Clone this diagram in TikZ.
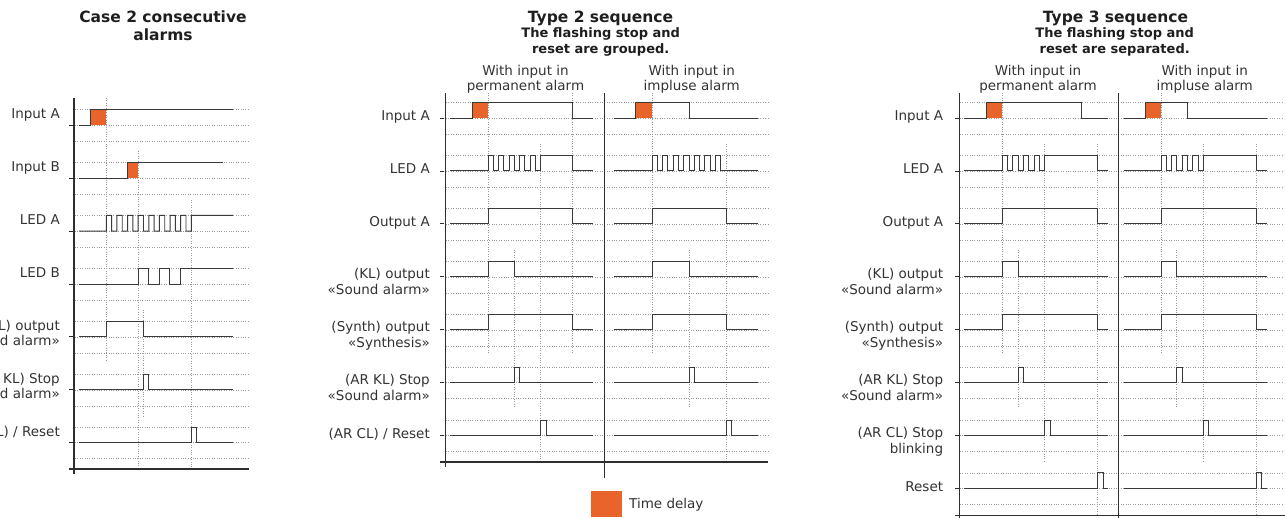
\documentclass[tikz,border=0pt]{standalone}
\usepackage{fontspec}
\setmainfont{DejaVu Sans}
\definecolor{sigc}{HTML}{3A3A3A}
\definecolor{gridc}{HTML}{9A9A9A}
\definecolor{axc}{HTML}{2E2E2E}
\definecolor{orng}{HTML}{E8642A}
\definecolor{txtc}{HTML}{333333}
\definecolor{ttlc}{HTML}{1E1E1E}
\begin{document}
\begin{tikzpicture}[x=1pt,y=-1pt,
  sig/.style={draw=sigc,line width=0.95pt,line join=miter},
  gridl/.style={draw=gridc,line width=0.6pt,dash pattern=on 0.8pt off 1.6pt},
  axisl/.style={draw=axc,line width=1.1pt},
  tick/.style={draw=axc,line width=0.9pt},
  delay/.style={fill=orng,draw=none},
  lab/.style={font=\fontsize{13.5}{15.6}\selectfont,text=txtc,align=right,anchor=base east,inner sep=0pt},
  head/.style={font=\fontsize{13.5}{15.7}\selectfont,text=txtc,align=center,anchor=base,inner sep=0pt},
  ttl/.style={font=\fontsize{15.5}{17.4}\selectfont\bfseries,text=ttlc,align=center,anchor=base,inner sep=0pt},
  subttl/.style={font=\fontsize{13}{15.6}\selectfont\bfseries,text=ttlc,align=center,anchor=base,inner sep=0pt}]
\useasboundingbox (0,0) rectangle (1285,517);
\clip (0,0) rectangle (1285,517);

% ================= Panel 1 =================
\node[ttl] (t1) at (163,40.1) {Case 2 consecutive\\alarms};
\foreach \l in {125.3,178.2,231.1,284.0,336.9,389.8,442.7}{
  \draw[gridl] (75,{\l-15.7}) -- (248,{\l-15.7});
  \draw[gridl] (75,\l) -- (248,\l);
  \draw[gridl] (75,{\l+16}) -- (248,{\l+16});
  \draw[tick] (69,\l) -- (73,\l);
}
\draw[gridl] (106.3,98) -- (106.3,362);
\draw[gridl] (138,151) -- (138,469);
\draw[gridl] (191.3,200) -- (191.3,469);
\draw[gridl] (143.3,310) -- (143.3,415.7);
\draw[axisl] (74,98) -- (74,474);
\draw[axisl] (69,469) -- (249,469);
% labels
\node[lab] (p1a) at (60,118.6) {Input A};
\node[lab] (p1b) at (60,171.5) {Input B};
\node[lab] (p1c) at (60,224.4) {LED A};
\node[lab] (p1d) at (60,277.3) {LED B};
\node[lab] (p1e) at (60,345.8) {(KL) output\\«Sound alarm»};
\node[lab] (p1f) at (60,398.7) {(AR KL) Stop\\«Sound alarm»};
\node[lab] (p1g) at (60,436.0) {(AR CL) / Reset};
% signals
\fill[delay] (90.7,109.6) rectangle (106.3,125.3);
\draw[sig] (79,125.3) -- (90.7,125.3) -- (90.7,109.6) -- (233,109.6);
\fill[delay] (127.7,162.5) rectangle (138,178.2);
\draw[sig] (79,178.2) -- (127.7,178.2) -- (127.7,162.5) -- (222.7,162.5);
\draw[sig] (79,231.1) -- (106.3,231.1) \foreach \k in {1,...,8}{ -- ++(0,-15.7) -- ++(5.3125,0) -- ++(0,15.7) -- ++(5.3125,0) } -- ++(0,-15.7) -- (233,215.4);
\draw[sig] (79,284) -- (138,284) -- (138,268.3) -- (148.3,268.3) -- (148.3,284) -- (159,284) -- (159,268.3) -- (169.3,268.3) -- (169.3,284) -- (180.3,284) -- (180.3,268.3) -- (233,268.3);
\draw[sig] (79,336.9) -- (106.3,336.9) -- (106.3,321.2) -- (143.3,321.2) -- (143.3,336.9) -- (233,336.9);
\draw[sig] (79,389.8) -- (143.3,389.8) -- (143.3,374.1) -- (148.7,374.1) -- (148.7,389.8) -- (233,389.8);
\draw[sig] (79,442.7) -- (191.3,442.7) -- (191.3,427) -- (196.7,427) -- (196.7,442.7) -- (233,442.7);

% ================= Panel 2 =================
\node[ttl] (t2) at (600.5,22) {Type 2 sequence};
\node[subttl] (s2) at (600.7,53.3) {The flashing stop and\\reset are grouped.};
\node[head] (h2a) at (525.5,90.7) {With input in\\permanent alarm};
\node[head] (h2b) at (691.7,90.7) {With input in\\impluse alarm};
\foreach \l in {118.0,170.95,223.9,276.85,329.8,382.75,435.7}{
  \draw[gridl] (446,{\l-15.7}) -- (768,{\l-15.7});
  \draw[gridl] (446,\l) -- (768,\l);
  \draw[gridl] (446,{\l+16}) -- (768,{\l+16});
  \draw[tick] (440,\l) -- (444,\l);
}
\draw[gridl] (488,93) -- (488,354);
\draw[gridl] (572.7,93) -- (572.7,354);
\draw[gridl] (514.3,250) -- (514.3,408.3);
\draw[gridl] (540.7,144) -- (540.7,462);
\draw[gridl] (652,93) -- (652,354);
\draw[gridl] (689,250) -- (689,408.3);
\draw[gridl] (726,144) -- (726,462);
\draw[axisl] (445.7,93.3) -- (445.7,467.3);
\draw[axisl] (604.3,93.3) -- (604.3,477.7);
\draw[axisl] (440,462) -- (768,462);
% labels
\node[lab] (p2a) at (430,120.5) {Input A};
\node[lab] (p2b) at (430,173.45) {LED A};
\node[lab] (p2c) at (430,226.4) {Output A};
\node[lab] (p2d) at (430,294.45) {(KL) output\\«Sound alarm»};
\node[lab] (p2e) at (430,347.4) {(Synth) output\\«Synthesis»};
\node[lab] (p2f) at (430,400.35) {(AR KL) Stop\\«Sound alarm»};
\node[lab] (p2g) at (430,438.2) {(AR CL) / Reset};
% left signals
\fill[delay] (472,102.3) rectangle (488,118);
\draw[sig] (450,118) -- (472,118) -- (472,102.3) -- (572.7,102.3) -- (572.7,118) -- (593.3,118);
\draw[sig] (450,170.95) -- (488,170.95) \foreach \k in {1,...,5}{ -- ++(0,-15.7) -- ++(5.27,0) -- ++(0,15.7) -- ++(5.27,0) } -- ++(0,-15.7) -- (572.7,155.25) -- (572.7,170.95) -- (593.3,170.95);
\draw[sig] (450,223.9) -- (488,223.9) -- (488,208.2) -- (572.7,208.2) -- (572.7,223.9) -- (593.3,223.9);
\draw[sig] (450,276.85) -- (488,276.85) -- (488,261.15) -- (514.3,261.15) -- (514.3,276.85) -- (593.3,276.85);
\draw[sig] (450,329.8) -- (488,329.8) -- (488,314.1) -- (572.7,314.1) -- (572.7,329.8) -- (593.3,329.8);
\draw[sig] (450,382.75) -- (514.3,382.75) -- (514.3,367.05) -- (519.7,367.05) -- (519.7,382.75) -- (593.3,382.75);
\draw[sig] (450,435.7) -- (540.7,435.7) -- (540.7,420) -- (546,420) -- (546,435.7) -- (593.3,435.7);
% right signals
\fill[delay] (635.7,102.3) rectangle (652,118);
\draw[sig] (614.3,118) -- (635.7,118) -- (635.7,102.3) -- (689,102.3) -- (689,118) -- (757.7,118);
\draw[sig] (614.3,170.95) -- (652,170.95) \foreach \k in {1,...,7}{ -- ++(0,-15.7) -- ++(5.285,0) -- ++(0,15.7) -- ++(5.285,0) } -- (757.7,170.95);
\draw[sig] (614.3,223.9) -- (652,223.9) -- (652,208.2) -- (726,208.2) -- (726,223.9) -- (757.7,223.9);
\draw[sig] (614.3,276.85) -- (652,276.85) -- (652,261.15) -- (689,261.15) -- (689,276.85) -- (757.7,276.85);
\draw[sig] (614.3,329.8) -- (652,329.8) -- (652,314.1) -- (726,314.1) -- (726,329.8) -- (757.7,329.8);
\draw[sig] (614.3,382.75) -- (689,382.75) -- (689,367.05) -- (694.7,367.05) -- (694.7,382.75) -- (757.7,382.75);
\draw[sig] (614.3,435.7) -- (726,435.7) -- (726,420) -- (731.7,420) -- (731.7,435.7) -- (757.7,435.7);
% legend
\fill[delay] (591,491) rectangle (622,517);
\node[font=\fontsize{13.5}{15.6}\selectfont,text=txtc,anchor=west,inner sep=0pt] (leg) at (629,505) {Time delay};

% ================= Panel 3 =================
\node[ttl] (t3) at (1115.5,22) {Type 3 sequence};
\node[subttl] (s3) at (1114.7,53.3) {The flashing stop and\\reset are separated.};
\node[head] (h3a) at (1038,90.7) {With input in\\permanent alarm};
\node[head] (h3b) at (1204.7,90.7) {With input in\\impluse alarm};
\foreach \l in {118.0,170.95,223.9,276.85,329.8,382.75,435.7,488.65}{
  \draw[gridl] (960,{\l-15.7}) -- (1284,{\l-15.7});
  \draw[gridl] (960,\l) -- (1284,\l);
  \draw[gridl] (960,{\l+16}) -- (1284,{\l+16});
  \draw[tick] (955,\l) -- (958.5,\l);
}
\draw[gridl] (1002.3,93) -- (1002.3,354);
\draw[gridl] (1018.3,250) -- (1018.3,408.3);
\draw[gridl] (1044.7,144) -- (1044.7,462.3);
\draw[gridl] (1097.7,144) -- (1097.7,515.7);
\draw[gridl] (1161,93) -- (1161,354);
\draw[gridl] (1176.7,250) -- (1176.7,408.3);
\draw[gridl] (1203.3,144) -- (1203.3,462.3);
\draw[gridl] (1256.3,144) -- (1256.3,515.7);
\draw[axisl] (959.7,93.3) -- (959.7,520);
\draw[axisl] (1118.3,93.3) -- (1118.3,520);
\draw[axisl] (955,515.7) -- (1290,515.7);
% labels
\node[lab] (p3a) at (943.3,120.5) {Input A};
\node[lab] (p3b) at (943.3,173.45) {LED A};
\node[lab] (p3c) at (943.3,226.4) {Output A};
\node[lab] (p3d) at (943.3,294.45) {(KL) output\\«Sound alarm»};
\node[lab] (p3e) at (943.3,347.4) {(Synth) output\\«Synthesis»};
\node[lab] (p3f) at (943.3,400.35) {(AR KL) Stop\\«Sound alarm»};
\node[lab] (p3g) at (943.3,453.3) {(AR CL) Stop\\blinking};
\node[lab] (p3h) at (943.3,491.15) {Reset};
% left signals
\fill[delay] (986,102.3) rectangle (1002.3,118);
\draw[sig] (964.3,118) -- (986,118) -- (986,102.3) -- (1081.7,102.3) -- (1081.7,118) -- (1107.7,118);
\draw[sig] (964.3,170.95) -- (1002.3,170.95) \foreach \k in {1,...,4}{ -- ++(0,-15.7) -- ++(5.3,0) -- ++(0,15.7) -- ++(5.3,0) } -- ++(0,-15.7) -- (1097.7,155.25) -- (1097.7,170.95) -- (1107.7,170.95);
\draw[sig] (964.3,223.9) -- (1002.3,223.9) -- (1002.3,208.2) -- (1097.7,208.2) -- (1097.7,223.9) -- (1107.7,223.9);
\draw[sig] (964.3,276.85) -- (1002.3,276.85) -- (1002.3,261.15) -- (1018.3,261.15) -- (1018.3,276.85) -- (1107.7,276.85);
\draw[sig] (964.3,329.8) -- (1002.3,329.8) -- (1002.3,314.1) -- (1097.7,314.1) -- (1097.7,329.8) -- (1107.7,329.8);
\draw[sig] (964.3,382.75) -- (1018.3,382.75) -- (1018.3,367.05) -- (1023.7,367.05) -- (1023.7,382.75) -- (1107.7,382.75);
\draw[sig] (964.3,435.7) -- (1044.7,435.7) -- (1044.7,420) -- (1050,420) -- (1050,435.7) -- (1107.7,435.7);
\draw[sig] (964.3,488.65) -- (1097.7,488.65) -- (1097.7,472.95) -- (1103,472.95) -- (1103,488.65) -- (1107.7,488.65);
% right signals
\fill[delay] (1145,102.3) rectangle (1161,118);
\draw[sig] (1123.7,118) -- (1145,118) -- (1145,102.3) -- (1187.3,102.3) -- (1187.3,118) -- (1267.3,118);
\draw[sig] (1123.7,170.95) -- (1161,170.95) \foreach \k in {1,...,4}{ -- ++(0,-15.7) -- ++(5.29,0) -- ++(0,15.7) -- ++(5.29,0) } -- ++(0,-15.7) -- (1256.3,155.25) -- (1256.3,170.95) -- (1267.3,170.95);
\draw[sig] (1123.7,223.9) -- (1161,223.9) -- (1161,208.2) -- (1256.3,208.2) -- (1256.3,223.9) -- (1267.3,223.9);
\draw[sig] (1123.7,276.85) -- (1161,276.85) -- (1161,261.15) -- (1176.7,261.15) -- (1176.7,276.85) -- (1267.3,276.85);
\draw[sig] (1123.7,329.8) -- (1161,329.8) -- (1161,314.1) -- (1256.3,314.1) -- (1256.3,329.8) -- (1267.3,329.8);
\draw[sig] (1123.7,382.75) -- (1176.7,382.75) -- (1176.7,367.05) -- (1182.3,367.05) -- (1182.3,382.75) -- (1267.3,382.75);
\draw[sig] (1123.7,435.7) -- (1203.3,435.7) -- (1203.3,420) -- (1208.7,420) -- (1208.7,435.7) -- (1267.3,435.7);
\draw[sig] (1123.7,488.65) -- (1256.3,488.65) -- (1256.3,472.95) -- (1261.7,472.95) -- (1261.7,488.65) -- (1267.3,488.65);
\end{tikzpicture}
\end{document}
